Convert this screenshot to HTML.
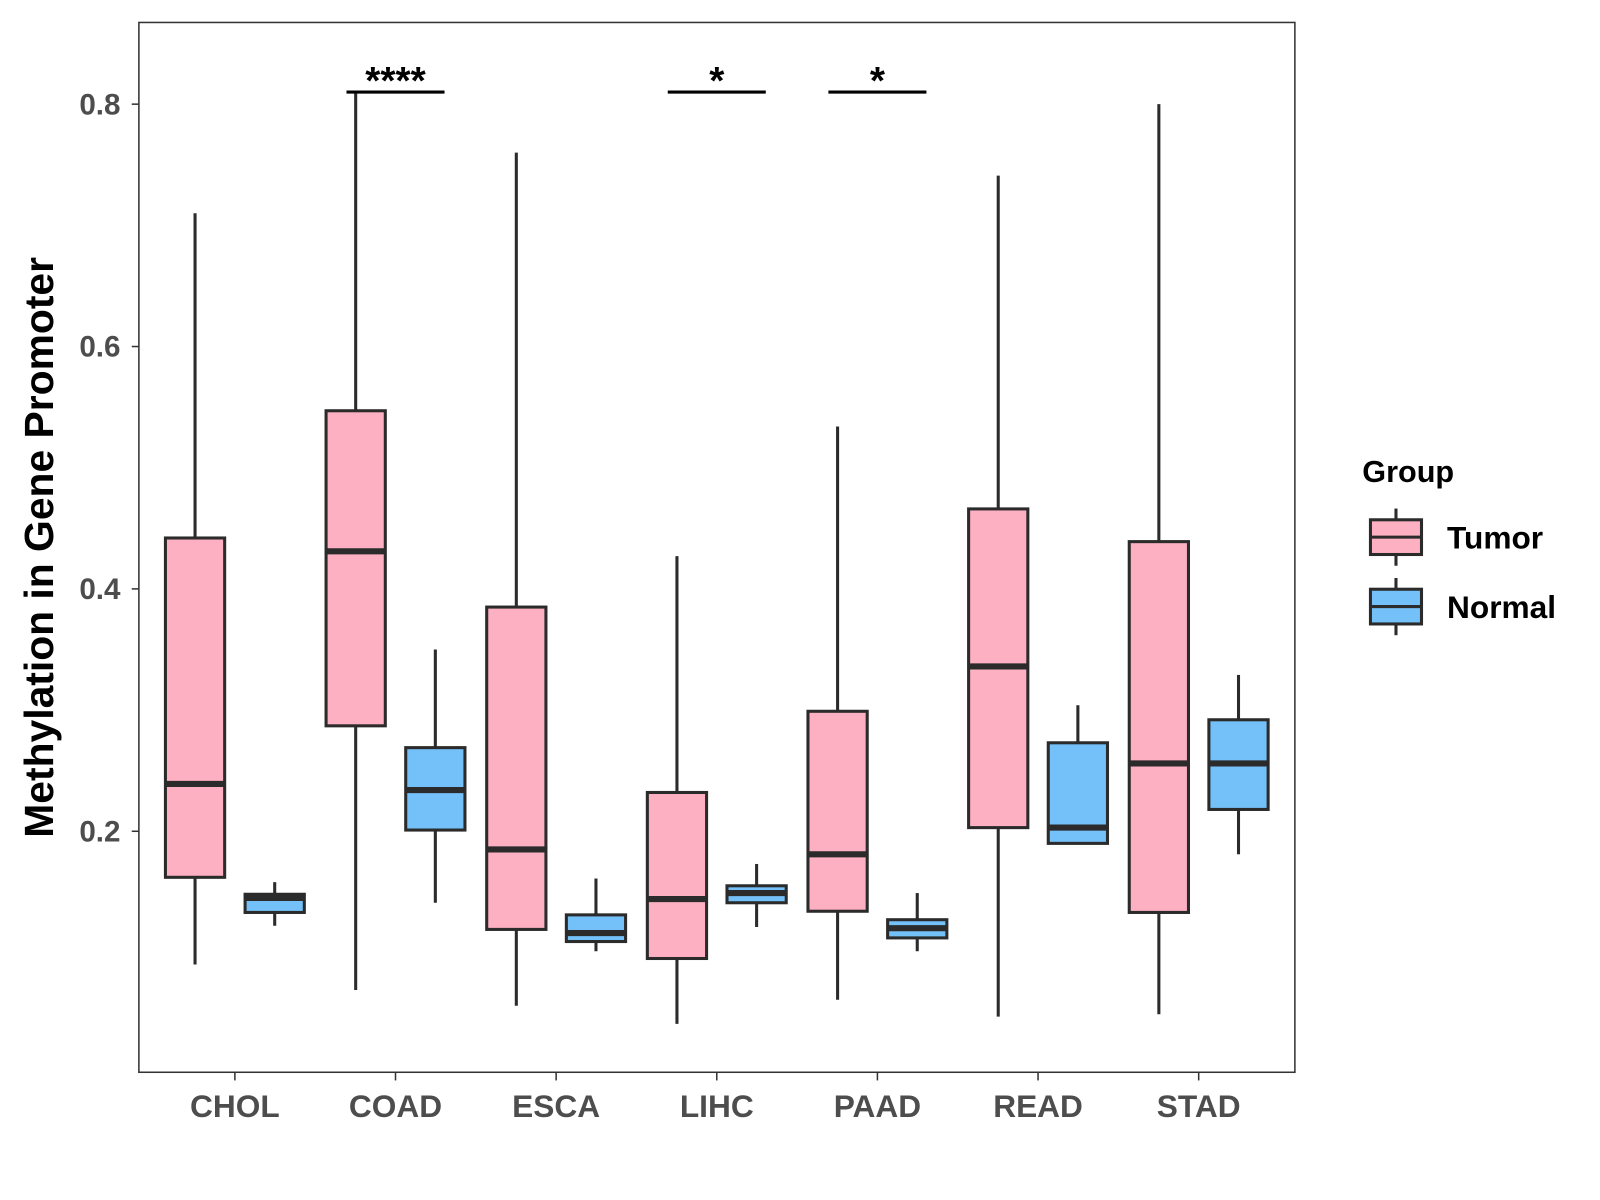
<!DOCTYPE html>
<html><head><meta charset="utf-8"><style>
body{margin:0;background:#fff;}
svg{display:block;font-family:"Liberation Sans",Arial,sans-serif;}
</style></head><body>
<svg id="chart" width="1600" height="1200" viewBox="0 0 1600 1200">
<rect x="0" y="0" width="1600" height="1200" fill="#fff"/>
<g transform="scale(1.0212)">
<rect x="136" y="22" width="1132" height="1028" fill="none" stroke="#333" stroke-width="1.5"/>
<g id="marks"></g>
<text x="0" y="0" transform="translate(52,536) rotate(-90)" text-anchor="middle" font-size="40" font-weight="bold" fill="#000">Methylation in Gene Promoter</text>
<g>
<text x="1334" y="472" font-size="30" font-weight="bold" fill="#000">Group</text>
<g>
<line x1="1367" y1="498" x2="1367" y2="554" stroke="#2b2b2b" stroke-width="3"/>
<rect x="1342" y="509" width="50" height="34" fill="#FCB0C2" stroke="#2b2b2b" stroke-width="3"/>
<line x1="1342" y1="526" x2="1392" y2="526" stroke="#2b2b2b" stroke-width="3"/>
<text x="1417" y="537" font-size="31" font-weight="bold" fill="#000">Tumor</text>
</g>
<g>
<line x1="1367" y1="566" x2="1367" y2="622" stroke="#2b2b2b" stroke-width="3"/>
<rect x="1342" y="577" width="50" height="34" fill="#74C0F8" stroke="#2b2b2b" stroke-width="3"/>
<line x1="1342" y1="594" x2="1392" y2="594" stroke="#2b2b2b" stroke-width="3"/>
<text x="1417" y="605" font-size="31" font-weight="bold" fill="#000">Normal</text>
</g>
</g>
</g>
</svg>
<script>
const categories=["CHOL","COAD","ESCA","LIHC","PAAD","READ","STAD"];
// [min,q1,median,q3,max]
const tumorStats=[[0.090,0.162,0.239,0.442,0.710],[0.069,0.287,0.431,0.547,0.810],[0.056,0.119,0.185,0.385,0.760],[0.041,0.095,0.144,0.232,0.427],[0.061,0.134,0.181,0.299,0.534],[0.047,0.203,0.336,0.466,0.741],[0.049,0.133,0.256,0.439,0.800]];
const normalStats=[[0.122,0.133,0.145,0.148,0.158],[0.141,0.201,0.234,0.269,0.350],[0.101,0.109,0.116,0.131,0.161],[0.121,0.141,0.149,0.155,0.173],[0.101,0.112,0.120,0.127,0.149],[0.190,0.190,0.203,0.273,0.304],[0.181,0.218,0.256,0.292,0.329]];
const yTicks=[0.2,0.4,0.6,0.8];
const sigCategories=["COAD","LIHC","PAAD"];
const sigLabels=["****","*","*"];
const sigLevel=0.810;

const NS="http://www.w3.org/2000/svg";
const g=document.getElementById('marks');
function y(v){return 814-(v-0.2)*1186.67;}
function x(i){return 230+i*157.3;}
function mk(t,a,p){const e=document.createElementNS(NS,t);for(const k in a)e.setAttribute(k,a[k]);(p||g).appendChild(e);return e;}

yTicks.forEach(v=>{
  const t=mk('text',{x:118,y:y(v)+10,'text-anchor':'end','font-size':29,'font-weight':'bold',fill:'#4d4d4d'});
  t.textContent=v.toFixed(1);
  
  
  const l=mk('line',{x1:129,x2:136,y1:y(v),y2:y(v),stroke:'#333','stroke-width':1.5});
  
  
});
categories.forEach((c,i)=>{
  const l=mk('line',{x1:x(i),x2:x(i),y1:1050,y2:1058,stroke:'#333','stroke-width':1.5});
  
  
  const t=mk('text',{x:x(i),y:1094,'text-anchor':'middle','font-size':31,'font-weight':'bold',fill:'#4d4d4d'});
  t.textContent=c;
  
  
});
function box(cx,s,fill,name){
  const grp=mk('g',{});
  
  
  const w=58;
  mk('line',{x1:cx,x2:cx,y1:y(s[0]),y2:y(s[1]),stroke:'#2b2b2b','stroke-width':3},grp);
  mk('line',{x1:cx,x2:cx,y1:y(s[3]),y2:y(s[4]),stroke:'#2b2b2b','stroke-width':3},grp);
  mk('rect',{x:cx-w/2,y:y(s[3]),width:w,height:Math.max(1,y(s[1])-y(s[3])),fill:fill,stroke:'#2b2b2b','stroke-width':3},grp);
  mk('line',{x1:cx-w/2,x2:cx+w/2,y1:y(s[2]),y2:y(s[2]),stroke:'#2b2b2b','stroke-width':6},grp);
}
categories.forEach((c,i)=>{
  box(x(i)-39,tumorStats[i],'#FCB0C2','box-tumor-'+c.toLowerCase());
  box(x(i)+39,normalStats[i],'#74C0F8','box-normal-'+c.toLowerCase());
});
sigCategories.forEach((c,k)=>{
  const i=categories.indexOf(c);
  const l=mk('line',{x1:x(i)-48,x2:x(i)+48,y1:y(sigLevel),y2:y(sigLevel),stroke:'#000','stroke-width':3});
  
  
  const t=mk('text',{x:x(i),y:y(sigLevel)+2,'text-anchor':'middle','font-size':38,'font-weight':'bold',fill:'#000'});
  t.textContent=sigLabels[k];
  
  
});
</script>
</body></html>
